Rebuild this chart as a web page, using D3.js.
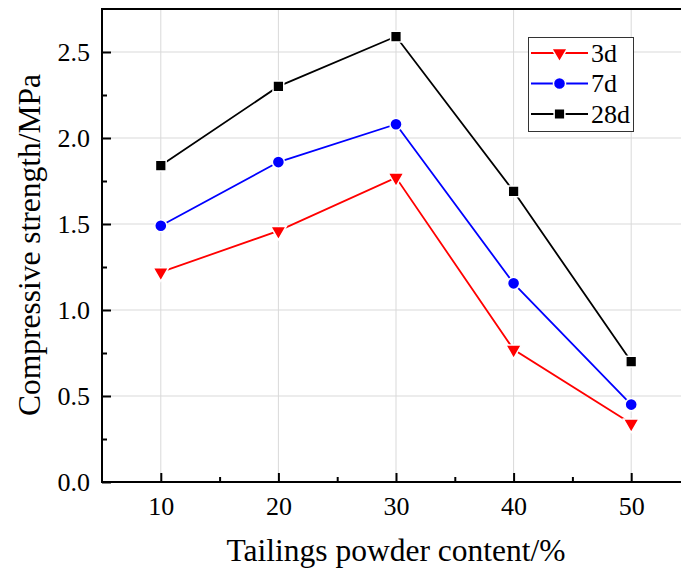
<!DOCTYPE html>
<html>
<head>
<meta charset="UTF-8">
<script src="https://cdn.jsdelivr.net/npm/d3@7"></script>
<style>
  body { margin: 0; background: #fff; }
  text { font-family: "Liberation Serif", "Times New Roman", serif; fill: #000; }
</style>
</head>
<body>
<script>
// data
var content = [10, 20, 30, 40, 50];
var s3d  = [1.22, 1.46, 1.77, 0.77, 0.34];
var s7d  = [1.49, 1.86, 2.08, 1.155, 0.45];
var s28d = [1.84, 2.30, 2.59, 1.69, 0.70];
var seriesNames = ["3d", "7d", "28d"];
var yTicks = [0, 0.5, 1.0, 1.5, 2.0, 2.5];
var xTicks = [10, 20, 30, 40, 50];

var W = 681, H = 570;
var padL = 102, padT = 9, padB = 482;

var svg = d3.select("body").append("svg")
    .attr("width", W).attr("height", H);

var x = d3.scaleLinear().domain([5, 55]).range([padL, padL + 588]);
var y = d3.scaleLinear().domain([0, 2.75]).range([padB, padT]);

// grid
var grid = svg.append("g");
grid.selectAll("line.gx").data(xTicks).enter().append("line")
    .attr("x1", d => x(d)).attr("x2", d => x(d))
    .attr("y1", padT).attr("y2", padB)
    .attr("stroke", "#d9d9d9").attr("stroke-width", 1);
grid.selectAll("line.gy").data(yTicks.slice(1)).enter().append("line")
    .attr("x1", padL).attr("x2", W)
    .attr("y1", d => y(d)).attr("y2", d => y(d))
    .attr("stroke", "#d9d9d9").attr("stroke-width", 1);

// axes (ticks inward)
var xAxis = d3.axisBottom(x).tickValues(xTicks).tickSize(-9).tickPadding(15)
    .tickFormat(d3.format("d"));
var xMinor = d3.axisBottom(x).tickValues([15, 25, 35, 45]).tickSize(-5).tickFormat("");
var yAxis = d3.axisLeft(y).tickValues(yTicks).tickSize(-9).tickPadding(12)
    .tickFormat(d3.format(".1f"));
var yMinor = d3.axisLeft(y).tickValues([0.25, 0.75, 1.25, 1.75, 2.25]).tickSize(-5).tickFormat("");

function styleAxis(g) {
  g.select(".domain").remove();
  g.attr("font-size", 26).attr("font-family", "Liberation Serif");
  g.selectAll(".tick line").attr("stroke", "#000").attr("stroke-width", 2);
  g.selectAll("text").attr("fill", "#000");
}
svg.append("g").attr("transform", "translate(0," + padB + ")").call(xAxis).call(styleAxis);
svg.append("g").attr("transform", "translate(0," + padB + ")").call(xMinor).call(styleAxis);
svg.append("g").attr("transform", "translate(" + padL + ",0)").call(yAxis).call(styleAxis);
svg.append("g").attr("transform", "translate(" + padL + ",0)").call(yMinor).call(styleAxis);

// frame: left, bottom, top
svg.append("path")
    .attr("d", "M" + W + "," + padT + "H" + padL + "V" + padB + "H" + W)
    .attr("fill", "none").attr("stroke", "#000").attr("stroke-width", 2);

// axis titles
svg.append("text").attr("x", 396).attr("y", 561)
    .attr("text-anchor", "middle").attr("font-size", 31.5)
    .text("Tailings powder content/%");
svg.append("text").attr("transform", "translate(40,245) rotate(-90)")
    .attr("text-anchor", "middle").attr("font-size", 31.5)
    .text("Compressive strength/MPa");

// series
var colors = ["#ff0000", "#0000ff", "#000000"];
var shapes = [d3.symbolTriangle, d3.symbolCircle, d3.symbolSquare];
var sizes = [105, 115, 115];
var allSeries = [s3d, s7d, s28d];
var line = d3.line().x((d, i) => x(content[i])).y(d => y(d));

function marker(g, k, cx, cy) {
  var p = g.append("path")
      .attr("d", d3.symbol().type(shapes[k]).size(sizes[k])())
      .attr("fill", colors[k]).attr("stroke", "#fff").attr("stroke-width", 1.5);
  p.attr("transform", "translate(" + cx + "," + cy + ")" + (k === 0 ? " rotate(180)" : ""));
}

allSeries.forEach(function (vals, k) {
  var g = svg.append("g");
  g.append("path").datum(vals).attr("d", line)
      .attr("fill", "none").attr("stroke", colors[k]).attr("stroke-width", 1.8);
  vals.forEach(function (v, i) { marker(g, k, x(content[i]), y(v)); });
});

// legend
var lg = svg.append("g");
lg.append("rect").attr("x", 528.5).attr("y", 37.5).attr("width", 105).attr("height", 94)
    .attr("fill", "#fff").attr("stroke", "#333").attr("stroke-width", 1);
seriesNames.forEach(function (name, k) {
  var yy = 53 + k * 30.5;
  lg.append("line").attr("x1", 531).attr("x2", 588).attr("y1", yy).attr("y2", yy)
      .attr("stroke", colors[k]).attr("stroke-width", 1.8);
  marker(lg, k, 559.5, yy);
  lg.append("text").attr("x", 591).attr("y", yy + 8.5).attr("font-size", 26).text(name);
});
</script>
</body>
</html>
